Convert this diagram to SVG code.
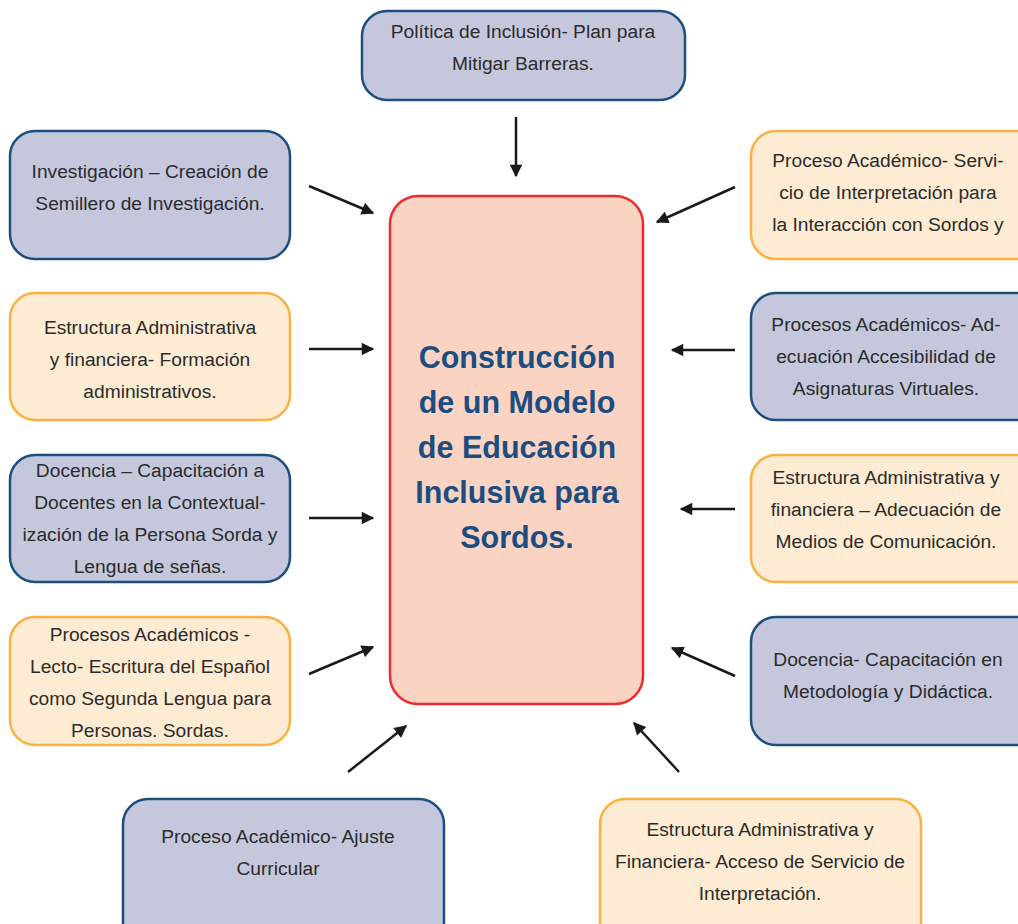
<svg xmlns="http://www.w3.org/2000/svg" width="1018" height="924" viewBox="0 0 1018 924">
<defs>
<style>
.b{fill:#C5C8DC;stroke:#1D4F7E;stroke-width:2.5}
.o{fill:#FEEBD3;stroke:#F8B243;stroke-width:2.5}
.t{font-family:"Liberation Sans",Arial,sans-serif;font-size:19.2px;fill:#2b2b2b;text-anchor:middle}
.c{font-family:"Liberation Sans",Arial,sans-serif;font-size:30.5px;font-weight:bold;fill:#1B4D80;text-anchor:middle}
.a{stroke:#1a1a1a;stroke-width:2.5;fill:none;marker-end:url(#ah)}
</style>
<marker id="ah" viewBox="0 0 10 10" refX="9" refY="5" markerWidth="5.5" markerHeight="5" orient="auto" markerUnits="strokeWidth">
<path d="M0,0 L10,5 L0,10 z" fill="#1a1a1a"/>
</marker>
</defs>
<rect width="1018" height="924" fill="#fff"/>
<g id="center">
<rect x="390" y="196" width="253" height="508" rx="28" fill="#FAD3C3" stroke="#EE2A2F" stroke-width="2.5"/>
<text class="c" x="517" y="368">Construcción</text>
<text class="c" x="517" y="413">de un Modelo</text>
<text class="c" x="517" y="458">de Educación</text>
<text class="c" x="517" y="503">Inclusiva para</text>
<text class="c" x="517" y="548">Sordos.</text>
</g>
<g id="n-top">
<rect class="b" x="362" y="11" width="323" height="89" rx="25"/>
<text class="t" x="523" y="38">Política de Inclusión- Plan para</text>
<text class="t" x="523" y="70">Mitigar Barreras.</text>
</g>
<g id="n-l1">
<rect class="b" x="10" y="131" width="280" height="128" rx="25"/>
<text class="t" x="150" y="178">Investigación – Creación de</text>
<text class="t" x="150" y="210">Semillero de Investigación.</text>
</g>
<g id="n-l2">
<rect class="o" x="10" y="293" width="280" height="127" rx="25"/>
<text class="t" x="150" y="334">Estructura Administrativa</text>
<text class="t" x="150" y="366">y financiera- Formación</text>
<text class="t" x="150" y="398">administrativos.</text>
</g>
<g id="n-l3">
<rect class="b" x="10" y="455" width="280" height="127" rx="25"/>
<text class="t" x="150" y="477">Docencia – Capacitación a</text>
<text class="t" x="150" y="509">Docentes en la Contextual-</text>
<text class="t" x="150" y="541">ización de la Persona Sorda y</text>
<text class="t" x="150" y="573">Lengua de señas.</text>
</g>
<g id="n-l4">
<rect class="o" x="10" y="617" width="280" height="128" rx="25"/>
<text class="t" x="150" y="641">Procesos Académicos -</text>
<text class="t" x="150" y="673">Lecto- Escritura del Español</text>
<text class="t" x="150" y="705">como Segunda Lengua para</text>
<text class="t" x="150" y="737">Personas. Sordas.</text>
</g>
<g id="n-r1">
<rect class="o" x="751" y="131" width="290" height="128" rx="25"/>
<text class="t" x="888" y="167">Proceso Académico- Servi-</text>
<text class="t" x="888" y="199">cio de Interpretación para</text>
<text class="t" x="888" y="231">la Interacción con Sordos y</text>
</g>
<g id="n-r2">
<rect class="b" x="751" y="293" width="290" height="127" rx="25"/>
<text class="t" x="886" y="331">Procesos Académicos- Ad-</text>
<text class="t" x="886" y="363">ecuación Accesibilidad de</text>
<text class="t" x="886" y="395">Asignaturas Virtuales.</text>
</g>
<g id="n-r3">
<rect class="o" x="751" y="455" width="290" height="127" rx="25"/>
<text class="t" x="886" y="484">Estructura Administrativa y</text>
<text class="t" x="886" y="516">financiera – Adecuación de</text>
<text class="t" x="886" y="548">Medios de Comunicación.</text>
</g>
<g id="n-r4">
<rect class="b" x="751" y="617" width="290" height="128" rx="25"/>
<text class="t" x="888" y="666">Docencia- Capacitación en</text>
<text class="t" x="888" y="698">Metodología y Didáctica.</text>
</g>
<g id="n-bl">
<rect class="b" x="123" y="799" width="321" height="150" rx="25"/>
<text class="t" x="278" y="843">Proceso Académico- Ajuste</text>
<text class="t" x="278" y="875">Curricular</text>
</g>
<g id="n-br">
<rect class="o" x="600" y="799" width="321" height="150" rx="25"/>
<text class="t" x="760" y="836">Estructura Administrativa y</text>
<text class="t" x="760" y="868">Financiera- Acceso de Servicio de</text>
<text class="t" x="760" y="900">Interpretación.</text>
</g>
<g id="connectors">
<line class="a" x1="516" y1="117" x2="516" y2="176"/>
<line class="a" x1="309" y1="186" x2="373" y2="213"/>
<line class="a" x1="309" y1="349" x2="373" y2="349"/>
<line class="a" x1="309" y1="518" x2="373" y2="518"/>
<line class="a" x1="309" y1="674" x2="373" y2="647"/>
<line class="a" x1="735" y1="187" x2="657" y2="222"/>
<line class="a" x1="735" y1="350" x2="672" y2="350"/>
<line class="a" x1="735" y1="509" x2="681" y2="509"/>
<line class="a" x1="735" y1="676" x2="672" y2="648"/>
<line class="a" x1="348" y1="772" x2="406" y2="726"/>
<line class="a" x1="679" y1="772" x2="634" y2="723"/>
</g>
</svg>
